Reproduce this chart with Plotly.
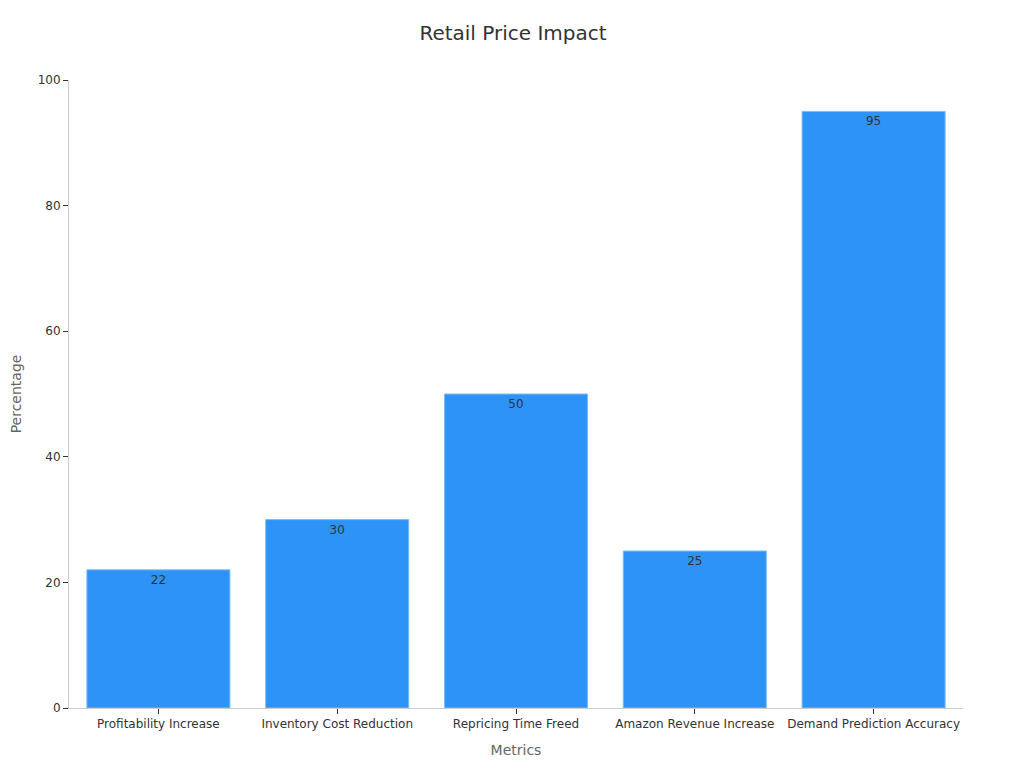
import plotly.graph_objects as go

metrics = ['Profitability Increase', 'Inventory Cost Reduction', 'Repricing Time Freed',
           'Amazon Revenue Increase', 'Demand Prediction Accuracy']
percentage = [22, 30, 50, 25, 95]

bars = go.Bar(
    x=metrics, y=percentage,
    text=percentage, textposition='inside', insidetextanchor='end',
    textfont=dict(color='#333333', size=12),
    marker=dict(color='#2E93F7', line=dict(color='#7DBBF7', width=1)),
)
fig = go.Figure([bars])
# page body has 8px margin, so margins are shifted to line up with the reference
fig.update_layout(
    title=dict(text='Retail Price Impact', x=505 / 1024, xanchor='center',
               y=1 - 25 / 768, yanchor='middle',
               font=dict(size=20, color='#333333')),
    width=1024, height=768,
    margin=dict(l=61, r=69, t=72, b=68),
    plot_bgcolor='white', paper_bgcolor='white',
    font=dict(family='DejaVu Sans', size=12, color='#333333'),
    bargap=0.2,
    showlegend=False,
)
fig.update_xaxes(
    title=dict(text='Metrics', font=dict(size=14, color='#666666'), standoff=14),
    showline=True, linecolor='#cccccc', linewidth=1,
    ticks='outside', ticklen=5, tickcolor='#333333',
    tickfont=dict(size=12, color='#333333'),
    showgrid=False,
)
fig.update_yaxes(
    title=dict(text='Percentage', font=dict(size=14, color='#666666'), standoff=21),
    range=[0, 100], dtick=20, automargin=False,
    showline=True, linecolor='#cccccc', linewidth=1,
    ticks='outside', ticklen=5, tickcolor='#333333',
    tickfont=dict(size=12, color='#333333'),
    showgrid=False, zeroline=False,
)
fig.write_html('out.html')
